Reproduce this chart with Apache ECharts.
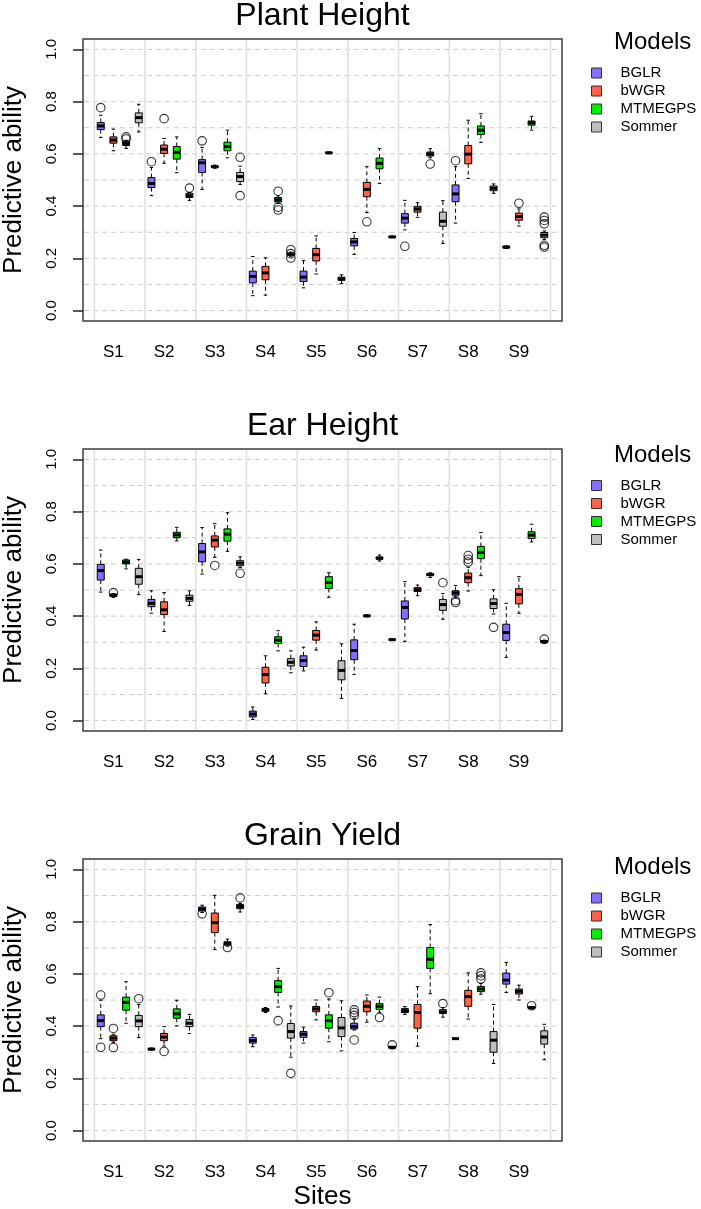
<!DOCTYPE html>
<html>
<head>
<meta charset="utf-8">
<title>Predictive ability by site and model</title>
<script src="https://cdn.jsdelivr.net/npm/echarts@6/dist/echarts.min.js"></script>
<style>
  html, body { margin: 0; padding: 0; background: #fff; }
  #chart { width: 701px; height: 1209px; }
</style>
</head>
<body>
<div id="chart"></div>
<script>
const sites = ['S1', 'S2', 'S3', 'S4', 'S5', 'S6', 'S7', 'S8', 'S9']
const models = ['BGLR', 'bWGR', 'MTMEGPS', 'Sommer']
const modelColors = ['#8470ff', '#ff6347', '#00ee00', '#bebebe']
const traits = ['Plant Height', 'Ear Height', 'Grain Yield']

// box stats per site: [lower whisker, Q1, median, Q3, upper whisker]
const phBGLR = [[0.663, 0.693, 0.707, 0.720, 0.748], [0.440, 0.471, 0.487, 0.509, 0.548], [0.464, 0.529, 0.566, 0.578, 0.625], [0.057, 0.106, 0.131, 0.151, 0.207], [0.087, 0.111, 0.128, 0.151, 0.191], [0.215, 0.248, 0.263, 0.276, 0.299], [0.309, 0.335, 0.354, 0.371, 0.422], [0.335, 0.417, 0.447, 0.481, 0.551], [0.238, 0.240, 0.243, 0.246, 0.248]]
const phBWGR = [[0.612, 0.641, 0.653, 0.665, 0.695], [0.564, 0.602, 0.618, 0.634, 0.659], [0.545, 0.548, 0.551, 0.554, 0.557], [0.059, 0.118, 0.144, 0.169, 0.202], [0.140, 0.190, 0.214, 0.238, 0.286], [0.375, 0.436, 0.464, 0.491, 0.551], [0.357, 0.377, 0.389, 0.399, 0.413], [0.506, 0.562, 0.599, 0.632, 0.729], [0.324, 0.346, 0.360, 0.373, 0.389]]
const phMTMEGPS = [[0.621, 0.632, 0.640, 0.649, 0.652], [0.528, 0.580, 0.606, 0.628, 0.665], [0.585, 0.612, 0.628, 0.645, 0.691], [0.410, 0.416, 0.424, 0.433, 0.440], [0.601, 0.603, 0.604, 0.606, 0.607], [0.487, 0.543, 0.564, 0.584, 0.621], [0.585, 0.592, 0.599, 0.607, 0.620], [0.644, 0.674, 0.691, 0.707, 0.754], [0.691, 0.710, 0.719, 0.726, 0.744]]
const phSommer = [[0.684, 0.719, 0.739, 0.757, 0.790], [0.422, 0.433, 0.440, 0.449, 0.452], [0.483, 0.494, 0.513, 0.529, 0.553], [0.208, 0.212, 0.216, 0.220, 0.224], [0.103, 0.116, 0.121, 0.128, 0.137], [0.279, 0.280, 0.282, 0.284, 0.285], [0.257, 0.323, 0.342, 0.377, 0.421], [0.449, 0.459, 0.468, 0.477, 0.485], [0.272, 0.279, 0.289, 0.299, 0.305]]
const phOutliers = [
  ['S1', 'BGLR', 0.777], ['S1', 'MTMEGPS', 0.665], ['S1', 'MTMEGPS', 0.657],
  ['S2', 'BGLR', 0.570], ['S2', 'bWGR', 0.735], ['S2', 'Sommer', 0.469],
  ['S3', 'BGLR', 0.650], ['S3', 'Sommer', 0.587], ['S3', 'Sommer', 0.440],
  ['S4', 'MTMEGPS', 0.457], ['S4', 'MTMEGPS', 0.396], ['S4', 'MTMEGPS', 0.385],
  ['S4', 'Sommer', 0.233], ['S4', 'Sommer', 0.218], ['S4', 'Sommer', 0.201],
  ['S6', 'bWGR', 0.340], ['S7', 'BGLR', 0.246], ['S7', 'MTMEGPS', 0.561],
  ['S8', 'BGLR', 0.574], ['S9', 'bWGR', 0.411],
  ['S9', 'Sommer', 0.358], ['S9', 'Sommer', 0.345], ['S9', 'Sommer', 0.332], ['S9', 'Sommer', 0.250], ['S9', 'Sommer', 0.243]
]

const ehBGLR = [[0.492, 0.538, 0.574, 0.598, 0.653], [0.411, 0.436, 0.449, 0.464, 0.497], [0.561, 0.608, 0.646, 0.678, 0.739], [0.004, 0.014, 0.025, 0.036, 0.052], [0.190, 0.207, 0.230, 0.248, 0.281], [0.177, 0.233, 0.268, 0.309, 0.369], [0.302, 0.389, 0.433, 0.458, 0.532], [0.470, 0.480, 0.489, 0.497, 0.517], [0.242, 0.307, 0.337, 0.369, 0.449]]
const ehBWGR = [[0.472, 0.475, 0.480, 0.484, 0.486], [0.341, 0.406, 0.424, 0.455, 0.490], [0.625, 0.665, 0.691, 0.707, 0.754], [0.103, 0.144, 0.176, 0.204, 0.248], [0.270, 0.308, 0.327, 0.345, 0.378], [0.397, 0.399, 0.401, 0.403, 0.405], [0.478, 0.494, 0.501, 0.509, 0.519], [0.496, 0.528, 0.547, 0.565, 0.587], [0.411, 0.447, 0.483, 0.505, 0.551]]
const ehMTMEGPS = [[0.581, 0.600, 0.607, 0.615, 0.618], [0.688, 0.700, 0.711, 0.721, 0.740], [0.648, 0.687, 0.714, 0.734, 0.796], [0.267, 0.295, 0.308, 0.321, 0.344], [0.472, 0.506, 0.529, 0.551, 0.566], [0.611, 0.618, 0.622, 0.626, 0.634], [0.548, 0.555, 0.559, 0.563, 0.566], [0.555, 0.620, 0.644, 0.667, 0.720], [0.684, 0.697, 0.710, 0.723, 0.752]]
const ehSommer = [[0.482, 0.522, 0.551, 0.583, 0.617], [0.440, 0.457, 0.468, 0.480, 0.497], [0.586, 0.593, 0.603, 0.612, 0.627], [0.183, 0.209, 0.223, 0.237, 0.267], [0.085, 0.156, 0.192, 0.229, 0.294], [0.308, 0.309, 0.310, 0.311, 0.312], [0.388, 0.422, 0.444, 0.464, 0.486], [0.408, 0.429, 0.448, 0.466, 0.501], [0.296, 0.298, 0.302, 0.306, 0.308]]
const ehOutliers = [
  ['S1', 'bWGR', 0.490], ['S3', 'bWGR', 0.594], ['S3', 'Sommer', 0.564],
  ['S7', 'Sommer', 0.528], ['S8', 'BGLR', 0.459], ['S8', 'BGLR', 0.452],
  ['S8', 'bWGR', 0.632], ['S8', 'bWGR', 0.618], ['S8', 'bWGR', 0.607],
  ['S8', 'Sommer', 0.357], ['S9', 'Sommer', 0.312]
]

const gyBGLR = [[0.352, 0.398, 0.421, 0.443, 0.499], [0.308, 0.310, 0.312, 0.314, 0.316], [0.835, 0.841, 0.849, 0.856, 0.863], [0.321, 0.335, 0.345, 0.356, 0.366], [0.335, 0.357, 0.369, 0.379, 0.396], [0.385, 0.389, 0.398, 0.411, 0.430], [0.445, 0.452, 0.459, 0.467, 0.475], [0.351, 0.352, 0.352, 0.353, 0.353], [0.529, 0.561, 0.576, 0.603, 0.644]]
const gyBWGR = [[0.338, 0.344, 0.354, 0.363, 0.369], [0.324, 0.344, 0.358, 0.372, 0.398], [0.693, 0.758, 0.796, 0.833, 0.901], [0.452, 0.457, 0.462, 0.467, 0.471], [0.424, 0.455, 0.466, 0.475, 0.500], [0.415, 0.455, 0.476, 0.496, 0.519], [0.323, 0.392, 0.452, 0.483, 0.551], [0.427, 0.476, 0.513, 0.537, 0.604], [0.500, 0.523, 0.533, 0.542, 0.557]]
const gyMTMEGPS = [[0.411, 0.461, 0.491, 0.511, 0.570], [0.401, 0.430, 0.447, 0.466, 0.499], [0.706, 0.710, 0.716, 0.723, 0.733], [0.473, 0.529, 0.551, 0.574, 0.621], [0.340, 0.392, 0.421, 0.443, 0.504], [0.453, 0.464, 0.476, 0.486, 0.511], [0.524, 0.621, 0.656, 0.701, 0.789], [0.522, 0.532, 0.542, 0.552, 0.564], [0.466, 0.468, 0.471, 0.473, 0.474]]
const gySommer = [[0.356, 0.398, 0.420, 0.441, 0.483], [0.372, 0.398, 0.411, 0.425, 0.445], [0.837, 0.850, 0.858, 0.866, 0.870], [0.281, 0.354, 0.379, 0.410, 0.477], [0.305, 0.360, 0.393, 0.433, 0.497], [0.316, 0.317, 0.319, 0.321, 0.322], [0.434, 0.448, 0.455, 0.463, 0.471], [0.257, 0.300, 0.346, 0.379, 0.483], [0.271, 0.331, 0.358, 0.382, 0.407]]
const gyOutliers = [
  ['S1', 'BGLR', 0.519], ['S1', 'BGLR', 0.319], ['S1', 'bWGR', 0.391], ['S1', 'bWGR', 0.318],
  ['S1', 'Sommer', 0.505], ['S2', 'bWGR', 0.303], ['S3', 'BGLR', 0.830], ['S3', 'MTMEGPS', 0.701],
  ['S3', 'Sommer', 0.891], ['S4', 'MTMEGPS', 0.421], ['S4', 'Sommer', 0.219], ['S5', 'MTMEGPS', 0.528],
  ['S6', 'BGLR', 0.462], ['S6', 'BGLR', 0.452], ['S6', 'BGLR', 0.441], ['S6', 'BGLR', 0.347],
  ['S6', 'MTMEGPS', 0.433], ['S6', 'Sommer', 0.328], ['S7', 'Sommer', 0.486],
  ['S8', 'MTMEGPS', 0.604], ['S8', 'MTMEGPS', 0.593], ['S8', 'MTMEGPS', 0.580], ['S9', 'MTMEGPS', 0.478]
]

// axis ticks and background grid lines
const yTicks = [0, 0.2, 0.4, 0.6, 0.8, 1.0]
const yGridLines = [0, 0.1, 0.2, 0.3, 0.4, 0.5, 0.6, 0.7, 0.8, 0.9, 1.0]
const xGridLines = [0, 4, 8, 12, 16, 20, 24, 28, 32, 36]

const panels = [
  { boxes: [phBGLR, phBWGR, phMTMEGPS, phSommer], outliers: phOutliers },
  { boxes: [ehBGLR, ehBWGR, ehMTMEGPS, ehSommer], outliers: ehOutliers },
  { boxes: [gyBGLR, gyBWGR, gyMTMEGPS, gySommer], outliers: gyOutliers }
]

// layout
const FONT = '"Liberation Sans", Arial, sans-serif'
const gridTops = [39, 449, 859]
const gridLeft = 83
const gridWidth = 479
const gridHeight = 282
const titleY = [16, 426, 836]
const legendTitleY = [42.5, 455, 867.5]
const legendTops = [64, 476.5, 889]
const boxWidth = 0.55

// box i of a site sits at site*4 + model + 0.5 on the x axis
const boxPos = (siteIdx, modelIdx) => siteIdx * models.length + modelIdx + 0.5
const siteLabelPos = sites.map((s, i) => boxPos(i, 1))

const renderBox = (params, api) => {
  const x = api.value(0)
  const lw = api.coord([x, api.value(1)])
  const q1 = api.coord([x, api.value(2)])
  const md = api.coord([x, api.value(3)])
  const q3 = api.coord([x, api.value(4)])
  const uw = api.coord([x, api.value(5)])
  const w = api.size([boxWidth, 0])[0]
  const cx = md[0]
  const dash = { stroke: '#000', lineWidth: 1, lineDash: [4, 3] }
  const solid = { stroke: '#000', lineWidth: 1 }
  return {
    type: 'group',
    children: [
      { type: 'line', shape: { x1: cx, y1: q3[1], x2: cx, y2: uw[1] }, style: dash },
      { type: 'line', shape: { x1: cx, y1: q1[1], x2: cx, y2: lw[1] }, style: dash },
      { type: 'line', shape: { x1: cx - w / 4, y1: uw[1], x2: cx + w / 4, y2: uw[1] }, style: solid },
      { type: 'line', shape: { x1: cx - w / 4, y1: lw[1], x2: cx + w / 4, y2: lw[1] }, style: solid },
      { type: 'rect', shape: { x: cx - w / 2, y: q3[1], width: w, height: q1[1] - q3[1] }, style: { fill: api.visual('color'), stroke: '#000', lineWidth: 1 } },
      { type: 'line', shape: { x1: cx - w / 2, y1: md[1], x2: cx + w / 2, y2: md[1] }, style: { stroke: '#000', lineWidth: 3 } }
    ]
  }
}

const renderHLine = (params, api) => {
  const cs = params.coordSys
  const y = api.coord([0, api.value(1)])[1]
  return { type: 'line', shape: { x1: cs.x + 1, y1: y, x2: cs.x + cs.width - 1, y2: y }, style: { stroke: '#cccccc', lineWidth: 1, lineDash: [5, 4] } }
}

const renderVLine = (params, api) => {
  const cs = params.coordSys
  const x = api.coord([api.value(0), 0])[0]
  return { type: 'line', shape: { x1: x, y1: cs.y + 1, x2: x, y2: cs.y + cs.height - 1 }, style: { stroke: '#e0e0e0', lineWidth: 1.5 } }
}

const grids = []
const xAxes = []
const yAxes = []
const series = []
const legends = []
const texts = []

panels.forEach((panel, i) => {
  grids.push({
    left: gridLeft, top: gridTops[i], width: gridWidth, height: gridHeight,
    outerBoundsMode: 'none', containLabel: false,
    show: true, borderColor: '#3c3c3c', borderWidth: 1.5, backgroundColor: 'transparent'
  })
  xAxes.push({
    type: 'value', gridIndex: i, min: -0.9, max: 36.9,
    splitLine: { show: false },
    axisLine: { show: false, onZero: false },
    axisTick: { show: false },
    axisLabel: {
      customValues: siteLabelPos,
      formatter: v => sites[siteLabelPos.indexOf(v)],
      margin: 23, fontSize: 17, color: '#000', fontFamily: FONT
    },
    name: i === 2 ? 'Sites' : '',
    nameLocation: 'middle', nameGap: 43,
    nameTextStyle: { fontSize: 26, color: '#000', fontFamily: FONT }
  })
  yAxes.push({
    type: 'value', gridIndex: i, min: -0.04, max: 1.04,
    splitLine: { show: false },
    axisLine: { show: false, onZero: false },
    axisTick: { show: true, customValues: yTicks, length: 10, lineStyle: { color: '#222', width: 1.5 } },
    axisLabel: {
      customValues: yTicks, rotate: 90, margin: 24, fontSize: 15, color: '#000', fontFamily: FONT,
      formatter: v => v.toFixed(1)
    },
    name: 'Predictive ability',
    nameLocation: 'middle', nameGap: 56,
    nameTextStyle: { fontSize: 26, color: '#000', fontFamily: FONT }
  })

  series.push({
    type: 'custom', xAxisIndex: i, yAxisIndex: i, silent: true, z: 1,
    data: yGridLines.map(v => [0, v]), renderItem: renderHLine
  })
  series.push({
    type: 'custom', xAxisIndex: i, yAxisIndex: i, silent: true, z: 1,
    data: xGridLines.map(v => [v, 0]), renderItem: renderVLine
  })

  panel.boxes.forEach((stats, m) => {
    series.push({
      name: models[m], type: 'custom', xAxisIndex: i, yAxisIndex: i, z: 3,
      itemStyle: { color: modelColors[m] },
      encode: { x: 0, y: 3 },
      data: stats.map((s, k) => [boxPos(k, m), ...s]),
      renderItem: renderBox
    })
  })

  series.push({
    type: 'scatter', xAxisIndex: i, yAxisIndex: i, z: 4, silent: true,
    symbol: 'circle', symbolSize: 8.5,
    itemStyle: { color: 'rgba(0,0,0,0)', borderColor: '#000', borderWidth: 1.1 },
    data: panel.outliers.map(o => [boxPos(sites.indexOf(o[0]), models.indexOf(o[1])), o[2]])
  })

  legends.push({
    data: models, orient: 'vertical', left: 591, top: legendTops[i],
    icon: 'rect', itemWidth: 10, itemHeight: 10, itemGap: 0, padding: 0,
    selectedMode: false,
    itemStyle: { borderColor: '#333', borderWidth: 1 },
    textStyle: { fontSize: 15, lineHeight: 18, color: '#000', fontFamily: FONT, padding: [0, 0, 0, 14] }
  })

  texts.push({
    type: 'text', x: gridLeft + gridWidth / 2, y: titleY[i],
    style: { text: traits[i], fontSize: 32, fontFamily: FONT, fill: '#000', align: 'center', verticalAlign: 'middle' }
  })
  texts.push({
    type: 'text', x: 614, y: legendTitleY[i],
    style: { text: 'Models', fontSize: 24, fontFamily: FONT, fill: '#000', align: 'left', verticalAlign: 'middle' }
  })
})

const chart = echarts.init(document.getElementById('chart'))
chart.setOption({
  animation: false,
  backgroundColor: '#fff',
  textStyle: { fontFamily: FONT },
  grid: grids,
  xAxis: xAxes,
  yAxis: yAxes,
  legend: legends,
  graphic: texts,
  series: series
})
</script>
</body>
</html>
